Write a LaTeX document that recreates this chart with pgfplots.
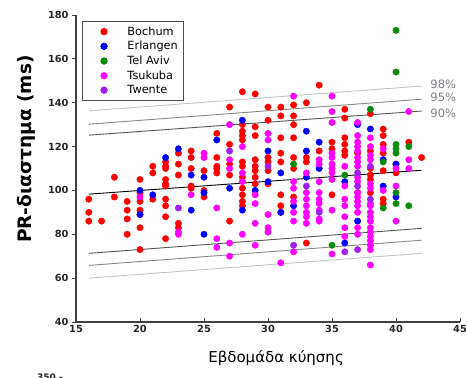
\documentclass[border=0pt]{standalone}
\usepackage{pgfplots}
\pgfplotsset{compat=1.18}
\usepackage{fontspec}
\setmainfont{DejaVu Sans}
\definecolor{cB}{RGB}{255,0,0}
\definecolor{cE}{RGB}{0,0,255}
\definecolor{cT}{RGB}{10,140,10}
\definecolor{cK}{RGB}{255,0,255}
\definecolor{cW}{RGB}{160,30,240}
\definecolor{l90}{RGB}{85,85,85}
\definecolor{l95}{RGB}{135,135,135}
\definecolor{l98}{RGB}{195,195,195}
\definecolor{pct}{RGB}{128,128,135}
\pgfplotsset{dot/.style={mark=*, only marks, mark size=3.2pt, color=#1}}
\begin{document}
\begin{tikzpicture}
\useasboundingbox (-76pt,-56pt) rectangle (391pt,322pt);
\begin{axis}[
  scale only axis, width=384pt, height=307pt,
  xmin=15, xmax=45, ymin=40, ymax=180,
  xtick={15,20,...,45}, ytick={40,60,...,180},
  axis lines*=left,
  axis line style={draw=black!75, line width=1.1pt},
  xtick align=inside, ytick align=outside,
  major tick length=4pt,
  tick style={black!75, line width=0.9pt},
  /pgf/number format/assume math mode=true,
  ticklabel style={font=\fontsize{9.8}{11}\selectfont\bfseries, text=black!85},
  every axis x label/.style={at={(axis description cs:0.521,-0.117)}, anchor=center},
  every axis y label/.style={at={(axis description cs:-0.130,0.563)}, rotate=90, anchor=center},
  xlabel={\fontsize{15}{17}\selectfont Εβδομάδα κύησης},
  ylabel={\fontsize{18.5}{20}\selectfont\bfseries PR-διαστημα (ms)},
  legend style={at={(axis description cs:0.016,0.98)}, anchor=north west,
    font=\fontsize{11.3}{13}\selectfont, draw=black!70, line width=0.9pt,
    inner xsep=4pt, inner ysep=3pt, row sep=0.6pt},
  legend cell align=left,
  legend image code/.code={\path (0pt,0pt) (38pt,0pt); \draw[#1] plot coordinates {(17pt,0pt)};},
]
\addplot[dot=cB] coordinates {
(16,96)(16,90)(16,86)(17,86)(18,106)(18,97)(19,95)(19,91)(19,87)(19,80)
(20,105)(20,99)(20,95)(20,91)(20,89)(20,83)(20,73)
(21,111)(21,108)(21,96)
(22,113)(22,111)(22,110)(22,105)(22,103)(22,102)(22,96)(22,93)(22,88)(22,78)
(23,117)(23,112)(23,107)(23,85)(23,83)
(24,118)(24,115)(24,110)(24,102)(24,101)
(25,109)(25,100)(25,97)
(26,126)(26,115)(26,111)(26,110)(26,108)
(27,138)(27,121)(27,112)(27,107)(27,86)
(28,145)(28,130)(28,127)(28,125)(28,123)(28,113)(28,111)(28,106)(28,101)(28,98)(28,95)(28,93)
(29,144)(29,129)(29,125)(29,114)(29,111)(29,109)(29,106)(29,103)
(30,138)(30,132)(30,115)(30,113)(30,109)(30,103)
(31,138)(31,134)(31,124)(31,117)(31,113)(31,98)(31,93)(31,90)
(32,139)(32,134)(32,130)(32,124)(32,115)(32,110)(32,97)
(33,140)(33,115)(33,113)(33,76)
(34,148)(34,118)
(35,122)(35,119)(35,98)
(36,137)(36,133)(36,124)(36,121)(36,118)(36,116)
(37,117)(37,99)
(38,135)(38,118)(38,110)(38,107)(38,105)(38,99)
(39,128)(39,125)(39,121)(39,117)(39,109)(39,96)(39,94)
(40,112)(40,108)(41,122)(42,115)
};
\addlegendentry{Bochum}
\addplot[dot=cE] coordinates {
(20,100)(20,89)(21,98)(22,115)(23,119)(24,107)(24,91)(25,106)(25,99)(25,80)
(26,123)(27,101)(28,132)(28,91)(29,100)(30,118)(30,104)(31,108)(31,90)(32,93)
(33,127)(33,118)(33,106)(34,122)(34,110)(36,104)(36,76)(37,130)(37,86)(38,128)
(39,114)(39,102)(40,112)(40,97)
};
\addlegendentry{Erlangen}
\addplot[dot=cT] coordinates {
(32,112)(35,75)(36,107)(38,137)(39,113)(39,92)
(40,173)(40,154)(40,121)(40,119)(40,117)(40,99)(40,94)(41,120)(41,93)
};
\addlegendentry{Tel Aviv}
\addplot[dot=cK] coordinates {
(20,97)(23,81)(23,80)(24,98)(25,117)(25,115)(26,92)(26,78)(26,74)
(27,130)(27,114)(27,110)(27,76)(27,70)
(28,120)(28,108)(28,104)(28,80)
(29,98)(29,94)(29,85)(29,75)
(30,126)(30,123)(30,89)(30,83)(30,81)
(31,67)
(32,143)(32,104)(32,101)(32,95)(32,90)(32,86)(32,72)
(33,108)(33,99)(33,96)(33,93)(33,90)(33,88)(33,85)
(34,114)(34,112)(34,104)(34,99)(34,96)(34,94)(34,91)(34,87)(34,86)
(35,143)(35,136)(35,131)(35,117)(35,115)(35,112)(35,110)(35,108)(35,105)(35,91)(35,71)
(36,111)(36,102)(36,96)(36,93)(36,88)(36,83)(36,79)
(37,131)(37,125)(37,122)(37,120)(37,118)(37,115)(37,113)(37,111)(37,106)(37,104)(37,99)(37,97)(37,95)(37,93)(37,90)(37,83)(37,80)
(38,124)(38,120)(38,116)(38,114)(38,103)(38,101)(38,94)(38,93)(38,90)(38,88)(38,86)(38,83)(38,81)(38,79)(38,77)(38,75)(38,73)(38,66)
(39,119)(39,100)(40,110)(40,102)(40,86)(41,136)(41,114)(41,110)
};
\addlegendentry{Tsukuba}
\addplot[dot=cW] coordinates {
(23,92)(27,118)(30,111)(32,75)(33,102)(34,90)(36,72)(37,108)(37,102)(37,73)(38,111)(38,96)
};
\addlegendentry{Twente}
\addplot[sharp plot, no marks, l98, line width=0.9pt, forget plot] coordinates {(16,136.3)(42,147.6)};
\addplot[sharp plot, no marks, l95, line width=0.9pt, forget plot] coordinates {(16,130.2)(42,141.6)};
\addplot[sharp plot, no marks, l90, line width=0.9pt, forget plot] coordinates {(16,125.2)(42,136.2)};
\addplot[sharp plot, no marks, black, line width=0.9pt, forget plot] coordinates {(16,98.3)(42,109.2)};
\addplot[sharp plot, no marks, l90, line width=0.9pt, forget plot] coordinates {(16,71.3)(42,82.7)};
\addplot[sharp plot, no marks, l95, line width=0.9pt, forget plot] coordinates {(16,65.8)(42,77.3)};
\addplot[sharp plot, no marks, l98, line width=0.9pt, forget plot] coordinates {(16,60.0)(42,71.3)};
\node[anchor=west, text=pct, font=\fontsize{11.5}{13}\selectfont, inner sep=1pt] at (axis cs:42.6,148.5) {98\%};
\node[anchor=west, text=pct, font=\fontsize{11.5}{13}\selectfont, inner sep=1pt] at (axis cs:42.6,142.6) {95\%};
\node[anchor=west, text=pct, font=\fontsize{11.5}{13}\selectfont, inner sep=1pt] at (axis cs:42.6,135.3) {90\%};
\end{axis}
\node[anchor=north, font=\fontsize{9}{10}\selectfont\bfseries, text=black!85] at (-26pt,-48pt) {350 -};
\end{tikzpicture}
\end{document}
